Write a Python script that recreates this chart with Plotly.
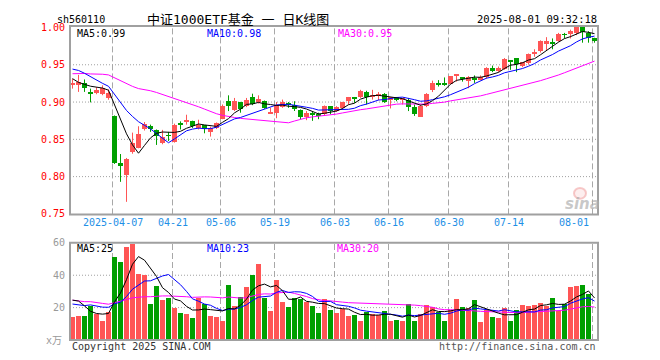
import plotly.graph_objects as go
import pandas as pd

# ---------------- data ----------------
dates = [
    "2025-03-26", "2025-03-27", "2025-03-28", "2025-03-31", "2025-04-01", "2025-04-02", "2025-04-03",
    "2025-04-07", "2025-04-08", "2025-04-09", "2025-04-10", "2025-04-11", "2025-04-14", "2025-04-15",
    "2025-04-16", "2025-04-17", "2025-04-18", "2025-04-21", "2025-04-22", "2025-04-23", "2025-04-24",
    "2025-04-25", "2025-04-28", "2025-04-29", "2025-04-30", "2025-05-06", "2025-05-07", "2025-05-08",
    "2025-05-09", "2025-05-12", "2025-05-13", "2025-05-14", "2025-05-15", "2025-05-16", "2025-05-19",
    "2025-05-20", "2025-05-21", "2025-05-22", "2025-05-23", "2025-05-26", "2025-05-27", "2025-05-28",
    "2025-05-29", "2025-05-30", "2025-06-03", "2025-06-04", "2025-06-05", "2025-06-06", "2025-06-09",
    "2025-06-10", "2025-06-11", "2025-06-12", "2025-06-13", "2025-06-16", "2025-06-17", "2025-06-18",
    "2025-06-19", "2025-06-20", "2025-06-23", "2025-06-24", "2025-06-25", "2025-06-26", "2025-06-27",
    "2025-06-30", "2025-07-01", "2025-07-02", "2025-07-03", "2025-07-04", "2025-07-07", "2025-07-08",
    "2025-07-09", "2025-07-10", "2025-07-11", "2025-07-14", "2025-07-15", "2025-07-16", "2025-07-17",
    "2025-07-18", "2025-07-21", "2025-07-22", "2025-07-23", "2025-07-24", "2025-07-25", "2025-07-28",
    "2025-07-29", "2025-07-30", "2025-07-31", "2025-08-01",
]

open_ = [
    0.9240, 0.9232, 0.9254, 0.9130, 0.9127, 0.9105, 0.9050, 0.8807, 0.8184, 0.8018,
    0.8325, 0.8390, 0.8632, 0.8675, 0.8627, 0.8447, 0.8553, 0.8469, 0.8711, 0.8746,
    0.8750, 0.8653, 0.8686, 0.8594, 0.8651, 0.8779, 0.9020, 0.8893, 0.9002, 0.8945,
    0.9068, 0.9002, 0.9011, 0.8855, 0.8857, 0.8937, 0.8968, 0.8958, 0.8893, 0.8801,
    0.8844, 0.8836, 0.8836, 0.8945, 0.8879, 0.8914, 0.9020, 0.9068, 0.9068, 0.9134,
    0.9068, 0.9088, 0.9107, 0.9024, 0.9068, 0.9044, 0.9024, 0.8936, 0.8805, 0.8945,
    0.9156, 0.9240, 0.9240, 0.9243, 0.9368, 0.9331, 0.9287, 0.9315, 0.9300, 0.9336,
    0.9458, 0.9423, 0.9445, 0.9556, 0.9585, 0.9489, 0.9520, 0.9663, 0.9686, 0.9774,
    0.9797, 0.9818, 0.9906, 0.9906, 0.9927, 1.0015, 0.9927, 0.9853,
]
high = [
    0.9311, 0.9364, 0.9303, 0.9180, 0.9202, 0.9224, 0.9170, 0.8820, 0.8303, 0.8250,
    0.8590, 0.8675, 0.8732, 0.8697, 0.8632, 0.8627, 0.8600, 0.8710, 0.8741, 0.8830,
    0.8750, 0.8763, 0.8686, 0.8669, 0.8726, 0.8967, 0.9090, 0.9055, 0.9002, 0.9055,
    0.9112, 0.9090, 0.9020, 0.8923, 0.9000, 0.9033, 0.9000, 0.9011, 0.8901, 0.8879,
    0.8879, 0.8857, 0.8954, 0.8945, 0.8945, 0.9002, 0.9068, 0.9068, 0.9164, 0.9151,
    0.9164, 0.9134, 0.9120, 0.9068, 0.9068, 0.9055, 0.9055, 0.8967, 0.8967, 0.9120,
    0.9287, 0.9294, 0.9330, 0.9348, 0.9370, 0.9331, 0.9348, 0.9357, 0.9357, 0.9467,
    0.9489, 0.9476, 0.9590, 0.9564, 0.9585, 0.9533, 0.9651, 0.9708, 0.9827, 0.9870,
    0.9853, 0.9927, 0.9927, 0.9971, 1.0028, 1.0015, 0.9950, 0.9862,
]
low = [
    0.9180, 0.9136, 0.9136, 0.8996, 0.9105, 0.9092, 0.9031, 0.8170, 0.7930, 0.7662,
    0.8307, 0.8380, 0.8618, 0.8600, 0.8425, 0.8434, 0.8478, 0.8456, 0.8632, 0.8697,
    0.8653, 0.8632, 0.8581, 0.8537, 0.8638, 0.8770, 0.8879, 0.8880, 0.8857, 0.8932,
    0.8958, 0.8980, 0.8910, 0.8844, 0.8783, 0.8923, 0.8923, 0.8880, 0.8770, 0.8757,
    0.8748, 0.8770, 0.8814, 0.8836, 0.8870, 0.8901, 0.8967, 0.8989, 0.9055, 0.8967,
    0.9033, 0.9024, 0.8989, 0.8914, 0.9011, 0.8967, 0.8879, 0.8814, 0.8805, 0.8932,
    0.9134, 0.9208, 0.9217, 0.9239, 0.9274, 0.9274, 0.9186, 0.9257, 0.9292, 0.9313,
    0.9401, 0.9401, 0.9432, 0.9432, 0.9401, 0.9467, 0.9502, 0.9607, 0.9664, 0.9686,
    0.9708, 0.9809, 0.9853, 0.9853, 0.9897, 0.9796, 0.9796, 0.9796,
]
close = [
    0.9250, 0.9268, 0.9189, 0.9125, 0.9167, 0.9189, 0.9125, 0.8184, 0.8136, 0.8237,
    0.8447, 0.8566, 0.8706, 0.8640, 0.8544, 0.8535, 0.8550, 0.8697, 0.8710, 0.8750,
    0.8675, 0.8697, 0.8634, 0.8651, 0.8713, 0.8945, 0.8945, 0.9020, 0.8901, 0.9033,
    0.8976, 0.9046, 0.8923, 0.8858, 0.8967, 0.9002, 0.8967, 0.8901, 0.8805, 0.8857,
    0.8827, 0.8814, 0.8945, 0.8879, 0.8932, 0.8998, 0.9068, 0.9046, 0.9151, 0.9064,
    0.9099, 0.9090, 0.9002, 0.9068, 0.9024, 0.9046, 0.8936, 0.8836, 0.8945, 0.9112,
    0.9261, 0.9238, 0.9238, 0.9348, 0.9370, 0.9309, 0.9331, 0.9313, 0.9336, 0.9458,
    0.9423, 0.9458, 0.9577, 0.9555, 0.9511, 0.9533, 0.9642, 0.9665, 0.9818, 0.9818,
    0.9795, 0.9919, 0.9905, 0.9950, 1.0015, 0.9941, 0.9862, 0.9818,
]
volume = [  # 万
    14.1, 15.2, 15.2, 21.2, 16.2, 12.1, 17.2, 51.1, 48.5, 57.6,
    59.6, 40.8, 40.0, 22.6, 33.3, 24.8, 26.1, 19.6, 17.0, 16.4,
    13.5, 26.3, 22.4, 15.2, 14.1, 11.7, 33.9, 21.0, 26.7, 32.7,
    40.0, 46.9, 26.3, 18.2, 37.0, 23.8, 20.6, 25.9, 25.5, 23.6,
    21.2, 16.6, 25.5, 18.9, 16.6, 19.2, 15.2, 15.8, 11.7, 17.6,
    16.2, 15.8, 18.2, 11.7, 12.7, 12.1, 22.4, 12.1, 16.4, 21.8,
    20.6, 17.2, 11.7, 18.6, 25.5, 20.6, 19.8, 24.8, 11.5, 18.6,
    14.5, 13.5, 19.6, 12.1, 18.6, 21.8, 21.2, 21.8, 23.0, 20.8,
    26.1, 18.2, 22.4, 32.9, 33.3, 34.1, 28.7, 0.8,
]
# sessions before the first visible one (only feed the moving averages)
prior_close = [
    0.915, 0.922, 0.930, 0.918, 0.930, 0.940, 0.936, 0.944, 0.937, 0.945,
    0.945, 0.910, 0.912, 0.922, 0.932, 0.955, 0.953, 0.952, 0.948, 0.952,
    0.945, 0.957, 0.960, 0.963, 0.960, 0.952, 0.932, 0.925, 0.923,
]
prior_volume = [
    30, 28, 22, 25, 35, 32, 27, 24, 21, 26,
    28, 33, 22, 20, 24, 26, 21, 19, 28, 25,
    18, 22, 17, 24, 18, 18, 30, 38, 23,
]

tick_dates = ["2025-04-07", "2025-04-21", "2025-05-06", "2025-05-19", "2025-06-03",
              "2025-06-16", "2025-06-30", "2025-07-14", "2025-08-01"]
tick_labels = ["2025-04-07", "04-21", "05-06", "05-19", "06-03", "06-16", "06-30", "07-14", "08-01"]
price_ticks = [0.75, 0.80, 0.85, 0.90, 0.95, 1.00]
price_grid = [0.80, 0.85, 0.90, 0.95]
vol_ticks = [20, 40, 60]
vol_grid = [20, 40]

# ---------------- derived ----------------
n = len(dates)
idx = list(range(n))
pos = {d: i for i, d in enumerate(dates)}

cs = pd.Series(prior_close + close)
vs = pd.Series(prior_volume + volume)
k = len(prior_close)
ma = {w: cs.rolling(w).mean().iloc[k:].tolist() for w in (5, 10, 30)}
vma = {w: vs.rolling(w).mean().iloc[len(prior_volume):].tolist() for w in (5, 10, 30)}

RED = "#FF5555"
GREEN = "#009F00"
MONO = "DejaVu Sans Mono"
MINH = 0.0013

up = [c >= o for o, c in zip(open_, close)]

# window pixel geometry (page body has an 8px margin)
OFF = 8
FIG_W, FIG_H = 652, 352
L_PX, R_PX, T_PX, B_PX = 70, 598, 20, 340


def xp(px):
    return (px - L_PX) / (R_PX - L_PX)


def yp(py):
    return (B_PX - py) / (B_PX - T_PX)


fig = go.Figure()

# wicks
for flag, col in ((True, RED), (False, GREEN)):
    wx, wy = [], []
    for i in idx:
        if up[i] == flag:
            wx += [i, i, None]
            wy += [low[i], high[i], None]
    fig.add_trace(go.Scatter(x=wx, y=wy, mode="lines", line=dict(color=col, width=1),
                             xaxis="x", yaxis="y", hoverinfo="skip"))

# bodies
for flag, col in ((True, RED), (False, GREEN)):
    bx, bb, bh = [], [], []
    for i in idx:
        if up[i] != flag:
            continue
        lo_, hi_ = min(open_[i], close[i]), max(open_[i], close[i])
        h = hi_ - lo_
        if h < MINH:
            mid = (lo_ + hi_) / 2
            lo_, h = mid - MINH / 2, MINH
        bx.append(i); bb.append(lo_); bh.append(h)
    fig.add_trace(go.Bar(x=bx, y=bh, base=bb, width=5 / 6, marker=dict(color=col, line=dict(width=0)),
                         xaxis="x", yaxis="y", hoverinfo="skip"))

# price moving averages
for w, col in ((30, "#FF00FF"), (10, "#0000FF"), (5, "#000000")):
    fig.add_trace(go.Scatter(x=idx, y=ma[w], mode="lines", line=dict(color=col, width=1),
                             xaxis="x", yaxis="y", hoverinfo="skip"))

# volume bars
fig.add_trace(go.Bar(x=idx, y=volume, width=5 / 6,
                     marker=dict(color=[RED if u else GREEN for u in up], line=dict(width=0)),
                     xaxis="x2", yaxis="y2", hoverinfo="skip"))
for w, col in ((30, "#FF00FF"), (10, "#0000FF"), (5, "#000000")):
    fig.add_trace(go.Scatter(x=idx, y=vma[w], mode="lines", line=dict(color=col, width=1),
                             xaxis="x2", yaxis="y2", hoverinfo="skip"))

xr = [-2.5 / 6, (R_PX - L_PX - 2.5) / 6]
PD = [yp(212), 1.0]
VD = [0.0, yp(241)]

shapes = []
# vertical dashed grid
for d in tick_dates:
    gx = pos[d] - 2.0 / 6
    for xa, dom in (("x", PD), ("x2", VD)):
        shapes.append(dict(type="line", xref=xa, yref="paper", x0=gx, x1=gx, y0=dom[0], y1=dom[1],
                           line=dict(color="#A8A8A8", width=1, dash="6px,3px"), layer="below"))
for g in price_grid:
    shapes.append(dict(type="line", xref="paper", yref="y", x0=0, x1=1, y0=g, y1=g,
                       line=dict(color="#A0A0A0", width=1, dash="1px,2px"), layer="below"))
for g in vol_grid:
    shapes.append(dict(type="line", xref="paper", yref="y2", x0=0, x1=1, y0=g, y1=g,
                       line=dict(color="#A0A0A0", width=1, dash="1px,2px"), layer="below"))
for dom in (PD, VD):
    shapes.append(dict(type="rect", xref="paper", yref="paper", x0=0, x1=1, y0=dom[0], y1=dom[1],
                       line=dict(color="#A0A0A0", width=2), fillcolor="rgba(0,0,0,0)", layer="above"))
# watermark eye
shapes.append(dict(type="circle", xref="paper", yref="paper",
                   x0=xp(574), x1=xp(586), y0=yp(196), y1=yp(185),
                   line=dict(color="rgba(240,150,150,0.5)", width=2), fillcolor="rgba(250,205,205,0.35)",
                   layer="below"))

ann = []


def txt(text, x, y, color="#000000", size=10, xanchor="left", family=MONO):
    ann.append(dict(text=text, x=x, y=y, xref="paper", yref="paper", showarrow=False,
                    xanchor=xanchor, yanchor="middle", font=dict(family=family, size=size, color=color)))


txt("sh560110", xp(55), yp(13), size=10)
txt("中证1000ETF基金 一 日K线图", xp(238), yp(13), size=13, xanchor="center",
    family="DejaVu Sans Mono, Noto Sans CJK SC")
txt("2025-08-01 09:32:18", xp(599), yp(13), size=10.5, xanchor="right")
txt("MA5:0.99", xp(75), yp(28), color="#000000")
txt("MA10:0.98", xp(205), yp(28), color="#0000FF")
txt("MA30:0.95", xp(336), yp(28), color="#FF00FF")
txt("MA5:25", xp(75), yp(247), color="#000000")
txt("MA10:23", xp(205), yp(247), color="#0000FF")
txt("MA30:20", xp(335), yp(247), color="#FF00FF")
txt("x万", xp(64), yp(340), color="#999999", xanchor="right", family="DejaVu Sans Mono, Noto Sans CJK SC")
txt("Copyright 2025 SINA.COM", xp(70), yp(347), color="#333333")
txt("http://finance.sina.com.cn", xp(598), yp(347), color="#555555", xanchor="right")
ann.append(dict(text="<b><i>sina</i></b>", x=xp(582), y=yp(201), xref="paper", yref="paper",
                showarrow=False, xanchor="center", yanchor="middle",
                font=dict(family="DejaVu Sans", size=15, color="rgba(175,175,175,0.7)")))

for d, lab in zip(tick_dates, tick_labels):
    gx = pos[d] - 2.0 / 6
    last = d == tick_dates[-1]
    ann.append(dict(text=lab, x=gx, y=yp(220), xref="x", yref="paper", showarrow=False,
                    xanchor="right" if last else "center", yanchor="middle",
                    xshift=-2 if last else 0,
                    font=dict(family=MONO, size=10, color="#1E8FE6")))

fig.update_layout(
    width=FIG_W, height=FIG_H,
    margin=dict(l=L_PX - OFF, r=OFF + FIG_W - R_PX, t=T_PX - OFF, b=OFF + FIG_H - B_PX, pad=0),
    paper_bgcolor="white", plot_bgcolor="white",
    showlegend=False, barmode="overlay", bargap=0, hovermode=False, dragmode=False,
    xaxis=dict(domain=[0, 1], range=xr, anchor="y", showticklabels=False, showgrid=False,
               zeroline=False, showline=False, ticks=""),
    xaxis2=dict(domain=[0, 1], range=xr, anchor="y2", showticklabels=False, showgrid=False,
                zeroline=False, showline=False, ticks=""),
    yaxis=dict(domain=PD, range=[0.75 - 0.5 / 760, 1.00 + 1.5 / 760], anchor="x",
               tickvals=price_ticks, ticktext=[f"{v:.2f}" for v in price_ticks],
               tickfont=dict(family=MONO, size=10, color="#FF0000"),
               showgrid=False, zeroline=False, showline=False, ticks="", ticklabelstandoff=4),
    yaxis2=dict(domain=VD, range=[0, 60], anchor="x2",
                tickvals=vol_ticks, ticktext=[str(v) for v in vol_ticks],
                tickfont=dict(family=MONO, size=10, color="#999999"),
                showgrid=False, zeroline=False, showline=False, ticks="", ticklabelstandoff=4),
    shapes=shapes, annotations=ann,
)

fig.write_html("out.html", config={"displayModeBar": False})
